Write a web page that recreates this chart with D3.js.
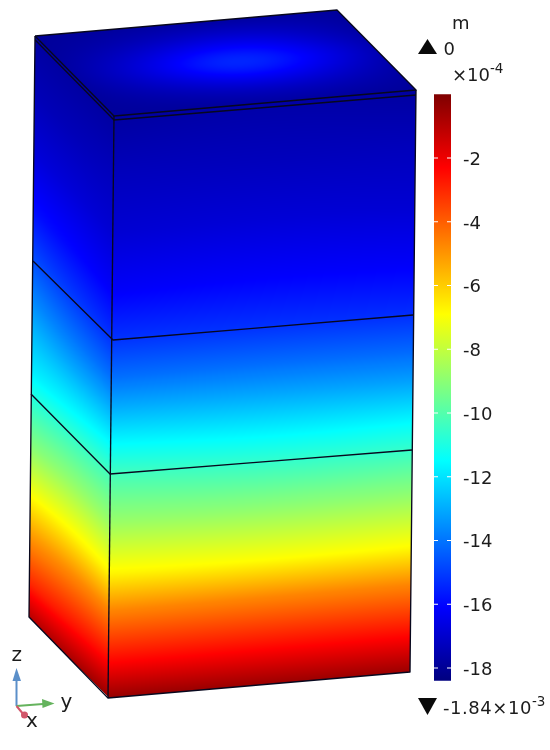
<!DOCTYPE html>
<html><head><meta charset="utf-8">
<script src="https://cdn.jsdelivr.net/npm/d3@7/dist/d3.min.js"></script>
<style>html,body{margin:0;padding:0;background:#fff}#w{position:relative;width:550px;height:750px;overflow:hidden}
canvas,svg{position:absolute;left:0;top:0;filter:blur(0.45px)}text{font-family:"DejaVu Sans",sans-serif;fill:#1c1c1c}</style>
</head><body><div id="w"></div>
<script>
// Colour bar (units of 1e-4 m)
const tickValues = [-2,-4,-6,-8,-10,-12,-14,-16,-18];
const rangeMax = 0, rangeMin = -18.4;
const jetPos = [0,0.125,0.375,0.625,0.875,1];
const jetCol = ["#00007f","#0000ff","#00ffff","#ffff00","#ff0000","#7f0000"];
// Field: depth fraction down a side face
const depthT   = [0,0.1,0.2,0.3,0.385,0.45,0.5,0.577,0.62,0.7,0.787,0.85,0.94,1];
const leftBack = [-17.8,-17.4,-16.8,-15.9,-14.7,-13.7,-12.9,-11.8,-10.9,-9.2,-7,-5.3,-3,-1];
const leftMid  = [-17.8,-17.4,-16.8,-16,-15,-14,-13.1,-11.5,-10.5,-8.7,-6.6,-4.8,-2.6,-0.8];
const front    = [-17.8,-17.3,-16.9,-16.2,-15.2,-14.1,-13,-11.2,-10.2,-8.7,-6.7,-4.7,-2.3,-0.4];
const rightMid = [-17.6,-17.3,-16.8,-16.1,-15.2,-14.1,-13.1,-11.5,-10.6,-8.9,-6.9,-4.7,-2.3,-0.5];
const rightEnd = [-17.8,-17.3,-16.9,-16.2,-15.3,-14.2,-13.2,-11.4,-10.5,-8.8,-6.8,-4.7,-2.3,-0.5];
// Field on the top face, rows from back-left edge to front edge
const topField = [
 [-17.9,-17.9,-17.8,-17.8,-17.8,-17.8,-17.9],
 [-17.9,-17.7,-17.4,-17.1,-17.1,-17.4,-17.8],
 [-17.8,-17.3,-16.6,-16.0,-16.1,-16.9,-17.6],
 [-17.7,-17.0,-16.0,-14.9,-15.3,-16.4,-17.4],
 [-17.8,-17.3,-16.7,-16.1,-16.2,-16.9,-17.6],
 [-17.9,-17.7,-17.5,-17.3,-17.3,-17.5,-17.8],
 [-17.9,-17.9,-17.9,-17.8,-17.8,-17.9,-17.9]];
// Geometry of the projected block (pixel corners of the picture)
const A=[35,36],B=[337,10],C=[416,90],D=[114,116],E=[29,617],F=[108,698],G=[410,672];
const layers = [
 [[35.2,40],[114,120],[416,95]],
 [[33,261],[113,340],[413,315]],
 [[31,394],[110,474],[412,450]]];

const W=550,H=750;
const wrap=d3.select("#w");
const canvas=wrap.append("canvas").attr("width",W).attr("height",H).node();
const svg=wrap.append("svg").attr("width",W).attr("height",H);
const ctx=canvas.getContext("2d");
const color=d3.scaleLinear().domain(jetPos.map(p=>rangeMin+p*(rangeMax-rangeMin))).range(jetCol).interpolate(d3.interpolateRgb).clamp(true);
const lut=d3.range(1025).map(i=>d3.rgb(color(rangeMin+(rangeMax-rangeMin)*i/1024)));
const colIdx=d3.scaleLinear().domain([rangeMin,rangeMax]).range([0,1024]).clamp(true);
const byDepth=c=>d3.scaleLinear().domain(depthT).range(c);
const leftS=[leftBack,leftMid,front].map(byDepth);
const rightS=[front,rightMid,rightEnd].map(byDepth);
const colFn=(ss)=>(u,t)=>d3.interpolateBasis(ss.map(s=>s(t)))(u);
const topRows=topField.map(r=>d3.interpolateBasis(r));
const topFn=(u,v)=>d3.interpolateBasis(topRows.map(r=>r(u)))(v);
const img=ctx.createImageData(W,H);
function face(P,a,b,fn){
  const det=a[0]*b[1]-a[1]*b[0];
  const xs=[P[0],P[0]+a[0],P[0]+b[0],P[0]+a[0]+b[0]],ys=[P[1],P[1]+a[1],P[1]+b[1],P[1]+a[1]+b[1]];
  for(let y=Math.floor(d3.min(ys))-1;y<=Math.ceil(d3.max(ys))+1;y++)
  for(let x=Math.floor(d3.min(xs))-1;x<=Math.ceil(d3.max(xs))+1;x++){
    const dx=x+.5-P[0],dy=y+.5-P[1];
    const u=(dx*b[1]-dy*b[0])/det,v=(a[0]*dy-a[1]*dx)/det;
    if(u<0||u>1||v<0||v>1)continue;
    const c=lut[Math.round(colIdx(fn(u,v)))];
    const i=(y*W+x)*4;img.data[i]=c.r;img.data[i+1]=c.g;img.data[i+2]=c.b;img.data[i+3]=255;
  }
}
const sub=(p,q)=>[p[0]-q[0],p[1]-q[1]];
face(A,sub(B,A),sub(D,A),(u,v)=>topFn(u,v));
face(A,sub(D,A),sub(E,A),colFn(leftS));
face(D,sub(C,D),sub(F,D),colFn(rightS));
ctx.putImageData(img,0,0);

// Edges
const line=d3.line();
const edges=[[A,B,C,D,A],[A,E,F,G,C],[D,F]];
const gE=svg.append("g").attr("fill","none").attr("stroke","#08081e").attr("stroke-width",1.35).attr("stroke-linejoin","round");
gE.selectAll("path.e").data(edges).join("path").attr("class","e").attr("d",line);
gE.selectAll("path.l").data(layers).join("path").attr("class","l").attr("d",line);

// Colour bar
const yBar=d3.scaleLinear().domain([-18,-2]).range([668,158]);
const barX=434,barW=17;
const defs=svg.append("defs");
const grad=defs.append("linearGradient").attr("id","jet").attr("x1",0).attr("x2",0).attr("y1",1).attr("y2",0);
grad.selectAll("stop").data(jetPos).join("stop").attr("offset",d=>d).attr("stop-color",(d,i)=>jetCol[i]);
svg.append("rect").attr("x",barX).attr("width",barW).attr("y",yBar(rangeMax)).attr("height",yBar(rangeMin)-yBar(rangeMax)).attr("fill","url(#jet)");
const axis=d3.axisRight(yBar).tickValues(tickValues).tickSize(0).tickPadding(0).tickFormat(d=>String(d));
const gA=svg.append("g").attr("transform",`translate(${barX+barW+12},0)`).call(axis);
gA.select(".domain").remove();
gA.selectAll("text").attr("font-size",18).attr("font-family",'"DejaVu Sans",sans-serif').attr("fill","#1c1c1c").attr("dy","0.36em");
const notch=svg.append("g").attr("stroke","#fff").attr("stroke-width",1);
tickValues.forEach(v=>{
  notch.append("line").attr("x1",barX).attr("x2",barX+4).attr("y1",yBar(v)).attr("y2",yBar(v));
  notch.append("line").attr("x1",barX+barW-4).attr("x2",barX+barW).attr("y1",yBar(v)).attr("y2",yBar(v));
});
const T=(x,y,s,size)=>svg.append("text").attr("x",x).attr("y",y).attr("font-size",size||18).text(s);
T(452,29,"m");
T(443.5,55,"0");
const t4=T(452,81,"×10");
t4.append("tspan").attr("font-size",13.5).attr("dy",-8).text("-4");
const t3=T(443,714,"-1.84×10").attr("letter-spacing",0.55);
t3.append("tspan").attr("font-size",13.5).attr("dy",-8).attr("letter-spacing",0).text("-3");
svg.append("path").attr("d","M418,54L427.5,39L437,54Z").attr("fill","#0a0a0a");
svg.append("path").attr("d","M418,698L437,698L427.5,715Z").attr("fill","#0a0a0a");

// Orientation triad
const O=[16.5,706];
const arrow=(to,col,head)=>{
  svg.append("line").attr("x1",O[0]).attr("y1",O[1]).attr("x2",to[0]).attr("y2",to[1]).attr("stroke",col).attr("stroke-width",2);
  if(head)svg.append("path").attr("d",head).attr("fill",col);
};
arrow([16.5,680],"#5b8fc9","M16.5,668L21,681L12.5,681Z");
arrow([43,704],"#65b35d","M54.5,703.5L42,699L42.5,708Z");
arrow([24,715],"#d1566a",null);
svg.append("circle").attr("cx",24.5).attr("cy",715).attr("r",3.5).attr("fill","#d1566a");
T(11.5,661,"z",20);
T(60.5,708,"y",20);
T(26,727,"x",20);
</script></body></html>
